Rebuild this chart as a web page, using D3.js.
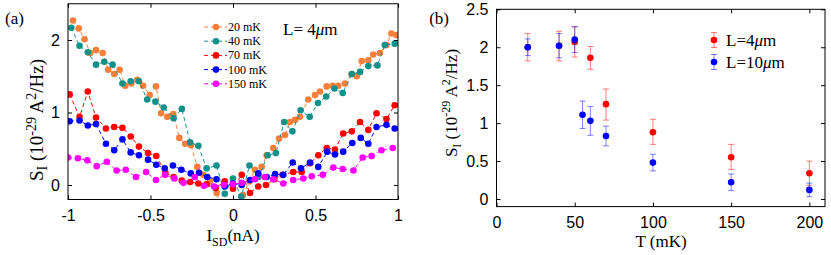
<!DOCTYPE html>
<html>
<head>
<meta charset="utf-8">
<script src="https://cdn.jsdelivr.net/npm/d3@7"></script>
<style>
  body { margin: 0; background: #fff; }
  svg { display: block; font-family: "Liberation Serif", "Times New Roman", serif; }
</style>
</head>
<body>
<svg id="chart" width="831" height="255"></svg>
<script>
// ---- panel (a): S_I vs I_SD, one series per temperature
const i20 = [-0.97,-0.935,-0.9,-0.865,-0.83,-0.79,-0.756,-0.72,-0.687,-0.653,-0.616,-0.58,-0.545,-0.505,-0.467,-0.436,-0.398,-0.362,-0.325,-0.29,-0.255,-0.216,-0.18,-0.14,-0.099,-0.065,-0.03,0.0,0.03,0.06,0.10,0.133,0.174,0.204,0.244,0.279,0.315,0.345,0.376,0.406,0.456,0.497,0.527,0.568,0.604,0.638,0.679,0.719,0.75,0.78,0.82,0.85,0.89,0.93,0.96,0.99];
const s20 = [2.27,2.16,2.01,1.82,1.86,1.82,1.59,1.53,1.59,1.37,1.40,1.45,1.37,1.24,1.36,0.99,0.94,0.98,0.65,0.57,0.55,0.25,0.14,0.05,-0.11,-0.35,-0.4,-0.38,-0.3,-0.14,0.05,0.21,0.25,0.41,0.51,0.64,0.69,0.87,0.90,0.94,1.18,1.24,1.29,1.36,1.37,1.37,1.40,1.53,1.50,1.71,1.72,1.80,1.82,1.93,2.09,2.07];

const i40 = [-0.98,-0.93,-0.88,-0.83,-0.78,-0.73,-0.67,-0.62,-0.57,-0.52,-0.47,-0.42,-0.36,-0.31,-0.26,-0.21,-0.16,-0.10,-0.05,0,0.05,0.10,0.155,0.21,0.26,0.31,0.36,0.41,0.465,0.515,0.565,0.615,0.665,0.72,0.77,0.82,0.875,0.92,0.98];
const s40 = [2.17,1.92,1.83,1.66,1.70,1.66,1.40,1.43,1.43,1.18,1.15,1.07,0.92,1.05,0.59,0.54,0.23,0.27,-0.12,0.09,-0.16,0.27,0.11,0.41,0.44,0.87,0.74,1.03,0.94,1.13,1.22,1.33,1.27,1.53,1.56,1.64,1.65,1.93,1.95];

const i70 = [-0.99,-0.93,-0.88,-0.83,-0.77,-0.72,-0.67,-0.62,-0.57,-0.515,-0.465,-0.41,-0.36,-0.31,-0.26,-0.21,-0.16,-0.105,-0.05,0,0.053,0.103,0.153,0.2,0.25,0.30,0.365,0.416,0.467,0.517,0.568,0.618,0.668,0.72,0.77,0.82,0.87,0.93,0.98];
const s70 = [1.25,0.94,1.29,0.93,0.78,0.80,0.79,0.67,0.53,0.44,0.40,0.17,0.11,0.06,0.04,0.02,0.01,-0.04,0.05,-0.05,0.14,-0.11,-0.02,0.0,0.08,0.14,0.18,0.18,0.30,0.41,0.51,0.49,0.71,0.74,0.87,0.76,0.99,0.91,1.10];

const i100 = [-0.99,-0.93,-0.88,-0.83,-0.77,-0.72,-0.67,-0.62,-0.57,-0.515,-0.465,-0.414,-0.364,-0.313,-0.256,-0.206,-0.156,-0.10,-0.05,0,0.053,0.103,0.153,0.204,0.255,0.305,0.362,0.412,0.467,0.517,0.571,0.618,0.668,0.723,0.774,0.82,0.87,0.93,0.98];
const s100 = [0.88,0.89,0.82,0.84,0.57,0.48,0.63,0.45,0.41,0.35,0.28,0.23,0.27,0.21,0.16,0.17,0.11,0.08,-0.02,0.02,0.0,0.07,0.16,0.11,0.15,0.14,0.31,0.23,0.31,0.25,0.46,0.42,0.46,0.58,0.65,0.57,0.80,0.83,0.78];

const i150 = [-1.0,-0.94,-0.883,-0.826,-0.765,-0.705,-0.65,-0.588,-0.527,-0.467,-0.412,-0.355,-0.30,-0.232,-0.176,-0.115,-0.055,0.0,0.053,0.133,0.194,0.244,0.305,0.365,0.426,0.477,0.544,0.608,0.665,0.73,0.786,0.84,0.90,0.968];
const s150 = [0.38,0.37,0.34,0.26,0.32,0.20,0.21,0.11,0.18,0.07,0.14,0.09,0.03,0.11,-0.01,-0.02,0.0,0.01,0.03,0.08,0.11,0.08,0.02,0.07,0.09,0.12,0.14,0.24,0.22,0.20,0.38,0.40,0.48,0.51];

const tempLabels = ["20 mK", "40 mK", "70 mK", "100 mK", "150 mK"];
const tempColors = ["#f77f3a", "#12918a", "#ff0000", "#0000ff", "#ff00ff"];

// ---- panel (b): S_I vs T for two lengths
const tRed = [20, 40, 50, 60, 70, 100, 150, 200];
const sRed = [2.00, 2.02, 2.07, 1.86, 1.25, 0.88, 0.55, 0.34];
const loRed = [1.82, 1.82, 1.87, 1.71, 1.04, 0.72, 0.39, 0.18];
const hiRed = [2.18, 2.21, 2.27, 2.01, 1.45, 1.05, 0.72, 0.50];

const tBlue = [20, 40, 50, 55, 60, 70, 100, 150, 200];
const sBlue = [2.00, 2.02, 2.10, 1.11, 1.03, 0.83, 0.48, 0.22, 0.12];
const loBlue = [1.89, 1.86, 1.93, 0.93, 0.84, 0.70, 0.37, 0.11, 0.03];
const hiBlue = [2.11, 2.18, 2.27, 1.29, 1.22, 0.96, 0.59, 0.33, 0.21];

const lengthLabels = ["4", "10"];

const svg = d3.select("#chart");
const fs = 16;

// helper: box with inward ticks on all four sides
function drawBox(g, x, y, xTicks, yTicks, xFmt, yFmt) {
    const [x0, x1] = x.range();
    const [y0, y1] = y.range();

    const styleText = sel => sel.selectAll("text")
        .attr("fill", "#000")
        .style("font-size", fs + "px")
        .style("font-family", "inherit");

    g.append("g")
        .attr("transform", `translate(0,${y0})`)
        .call(d3.axisBottom(x).tickValues(xTicks).tickSize(-4).tickPadding(10).tickFormat(xFmt))
        .call(styleText);
    g.append("g")
        .attr("transform", `translate(0,${y1})`)
        .call(d3.axisTop(x).tickValues(xTicks).tickSize(-4).tickFormat(""));
    g.append("g")
        .attr("transform", `translate(${x0},0)`)
        .call(d3.axisLeft(y).tickValues(yTicks).tickSize(-4).tickPadding(8).tickFormat(yFmt))
        .call(styleText);
    g.append("g")
        .attr("transform", `translate(${x1},0)`)
        .call(d3.axisRight(y).tickValues(yTicks).tickSize(-4).tickFormat(""));

    g.selectAll(".domain").remove();
    g.selectAll(".tick line").attr("stroke", "#000");

    g.append("rect")
        .attr("x", x0).attr("y", y1)
        .attr("width", x1 - x0).attr("height", y0 - y1)
        .attr("fill", "none")
        .attr("stroke", "#000");
}

// helper: S_I (10^-29 A^2/Hz) label, rotated
function yLabel(cx, cy, size) {
    const sub = Math.round(size * 0.72);
    const t = svg.append("text")
        .attr("transform", `translate(${cx},${cy}) rotate(-90)`)
        .attr("text-anchor", "middle")
        .style("font-size", size + "px");
    t.append("tspan").text("S");
    t.append("tspan").attr("dy", 4).style("font-size", sub + "px").text("I");
    t.append("tspan").attr("dy", -4).text(" (10");
    t.append("tspan").attr("dy", -7).style("font-size", sub + "px").text("-29");
    t.append("tspan").attr("dy", 7).text(" A");
    t.append("tspan").attr("dy", -7).style("font-size", sub + "px").text("2");
    t.append("tspan").attr("dy", 7).text("/Hz)");
}

// ================= panel (a)
const xA = d3.scaleLinear().domain([-1, 1]).range([68, 398]);
const yA = d3.scaleLinear().domain([-0.2, 2.5]).range([199.5, 3.75]);

const gA = svg.append("g");

svg.append("clipPath").attr("id", "clipA")
    .append("rect")
    .attr("x", 68).attr("y", 3.75)
    .attr("width", 330).attr("height", 195.75);

const seriesA = [
    { x: i20, y: s20 },
    { x: i40, y: s40 },
    { x: i70, y: s70 },
    { x: i100, y: s100 },
    { x: i150, y: s150 }
];

const lineA = d3.line().x(d => xA(d[0])).y(d => yA(d[1]));
const plotA = gA.append("g").attr("clip-path", "url(#clipA)");

seriesA.forEach((s, k) => {
    const pts = s.x.map((v, i) => [v, s.y[i]]);
    plotA.append("path")
        .datum(pts)
        .attr("fill", "none")
        .attr("stroke", tempColors[k])
        .attr("stroke-width", 1)
        .attr("stroke-dasharray", "4,3")
        .attr("d", lineA);
    plotA.selectAll(null)
        .data(pts)
        .enter()
        .append("circle")
        .attr("cx", d => xA(d[0]))
        .attr("cy", d => yA(d[1]))
        .attr("r", 3.3)
        .attr("fill", tempColors[k]);
});

drawBox(gA, xA, yA, [-1, -0.5, 0, 0.5, 1], [0, 1, 2], d => String(d), d => String(d));

// legend (a)
const legA = gA.append("g");
tempLabels.forEach((lab, k) => {
    const cy = 27 + k * 14.2;
    legA.append("line")
        .attr("x1", 204).attr("x2", 227)
        .attr("y1", cy).attr("y2", cy)
        .attr("stroke", tempColors[k])
        .attr("stroke-dasharray", "4,3");
    legA.append("circle")
        .attr("cx", 216).attr("cy", cy).attr("r", 3.3)
        .attr("fill", tempColors[k]);
    legA.append("text")
        .attr("x", 228).attr("y", cy + 4)
        .style("font-size", "12px")
        .text(lab);
});

const lA = gA.append("text").attr("x", 283).attr("y", 35).style("font-size", "17px");
lA.append("tspan").text("L= 4");
lA.append("tspan").style("font-style", "italic").text("\u03bc");
lA.append("tspan").text("m");

// x label (a)
const xlA = svg.append("text").attr("x", 233).attr("y", 241)
    .attr("text-anchor", "middle").style("font-size", "17px");
xlA.append("tspan").text("I");
xlA.append("tspan").attr("dy", 5).style("font-size", "12px").text("SD");
xlA.append("tspan").attr("dy", -5).text("(nA)");

yLabel(43, 120, 19);

svg.append("text").attr("x", 5).attr("y", 24).style("font-size", "17px").text("(a)");

// ================= panel (b)
const xB = d3.scaleLinear().domain([0, 210]).range([496.5, 825]);
const yB = d3.scaleLinear().domain([-0.1, 2.5]).range([206.6, 9.3]);

const gB = svg.append("g");

drawBox(gB, xB, yB, [0, 50, 100, 150, 200], [0, 0.5, 1, 1.5, 2, 2.5], d => String(d), d => String(d));

const seriesB = [
    { t: tRed, s: sRed, lo: loRed, hi: hiRed, color: "#ff0000", bar: "rgba(255,0,0,0.5)" },
    { t: tBlue, s: sBlue, lo: loBlue, hi: hiBlue, color: "#0000ff", bar: "rgba(0,0,255,0.5)" }
];

function errorBar(g, cx, yLo, yHi, color) {
    g.append("line").attr("x1", cx).attr("x2", cx).attr("y1", yLo).attr("y2", yHi)
        .attr("stroke", color);
    [yLo, yHi].forEach(yy => g.append("line")
        .attr("x1", cx - 3).attr("x2", cx + 3).attr("y1", yy).attr("y2", yy)
        .attr("stroke", color));
}

seriesB.forEach(s => {
    s.t.forEach((t, i) => errorBar(gB, xB(t), yB(s.lo[i]), yB(s.hi[i]), s.bar));
    gB.selectAll(null)
        .data(s.t.map((t, i) => [t, s.s[i]]))
        .enter()
        .append("circle")
        .attr("cx", d => xB(d[0]))
        .attr("cy", d => yB(d[1]))
        .attr("r", 3.3)
        .attr("fill", s.color);
});

// legend (b)
seriesB.forEach((s, k) => {
    const cy = 40 + k * 22;
    errorBar(gB, 714, cy + 7.5, cy - 7.5, s.bar);
    gB.append("circle").attr("cx", 714).attr("cy", cy).attr("r", 3.3).attr("fill", s.color);
    const t = gB.append("text").attr("x", 726).attr("y", cy + 6).style("font-size", "17px");
    t.append("tspan").text("L=" + lengthLabels[k]);
    t.append("tspan").style("font-style", "italic").text("\u03bc");
    t.append("tspan").text("m");
});

svg.append("text").attr("x", 661).attr("y", 247)
    .attr("text-anchor", "middle").style("font-size", "17px").text("T (mK)");

yLabel(457, 103, 17);

svg.append("text").attr("x", 449).attr("y", 24).attr("text-anchor", "end")
    .style("font-size", "17px").text("(b)");
</script>
</body>
</html>
